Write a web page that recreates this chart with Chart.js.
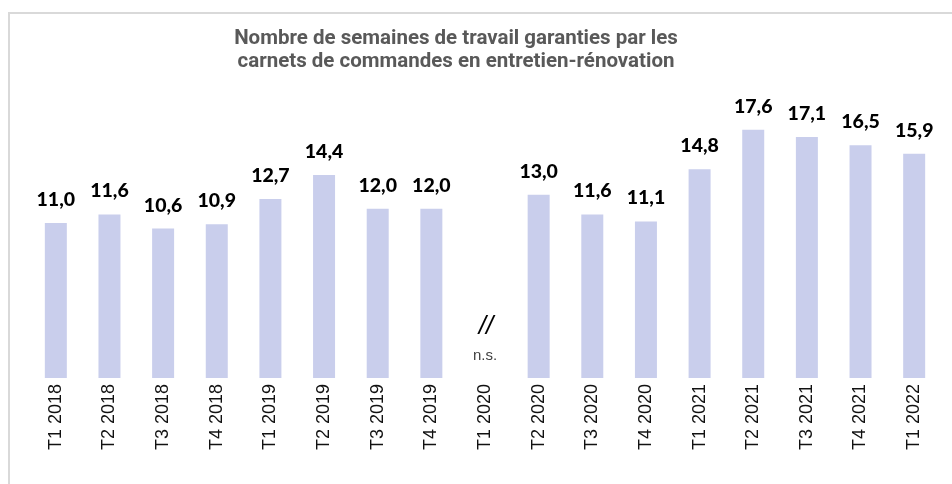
<!DOCTYPE html>
<html>
<head>
<meta charset="utf-8">
<script src="https://cdn.jsdelivr.net/npm/chart.js@4"></script>
<style>
  html, body { margin: 0; padding: 0; background: #fff; overflow: hidden; }
  #wrap { position: relative; width: 952px; height: 484px; }
  #frame { position: absolute; left: 8px; top: 12px; width: 960px; height: 490px; border: 2px solid #d9d9d9; box-sizing: border-box; }
  #title { position: absolute; left: 106px; width: 700px; top: 26px; text-align: center;
           font: bold 20.5px Roboto, sans-serif; line-height: 23px; color: #595959; }
  canvas { position: absolute; left: 0; top: 0; }
</style>
</head>
<body>
<div id="wrap">
  <div id="frame"></div>
  <canvas id="chart" width="952" height="484"></canvas>
  <div id="title">Nombre de semaines de travail garanties par les<br>carnets de commandes en entretien-rénovation</div>
</div>
<script>
const quarters = ["T1 2018", "T2 2018", "T3 2018", "T4 2018", "T1 2019", "T2 2019", "T3 2019", "T4 2019",
  "T1 2020", "T2 2020", "T3 2020", "T4 2020", "T1 2021", "T2 2021", "T3 2021", "T4 2021", "T1 2022"];
const weeks = [11.0, 11.6, 10.6, 10.9, 12.7, 14.4, 12.0, 12.0, null, 13.0, 11.6, 11.1, 14.8, 17.6, 17.1, 16.5, 15.9];
const gapLabel = "T1 2020"; // pas de donnée : "n.s."

const fmt = v => v.toFixed(1).replace(".", ",");

const valueLabels = {
  id: "valueLabels",
  afterDatasetsDraw(chart) {
    const ctx = chart.ctx;
    const meta = chart.getDatasetMeta(0);
    ctx.save();
    ctx.textAlign = "center";
    ctx.textBaseline = "alphabetic";
    ctx.font = "900 19.5px Lato, sans-serif";
    ctx.fillStyle = "#000";
    meta.data.forEach((bar, i) => {
      const v = weeks[i];
      if (v == null) return;
      ctx.fillText(fmt(v), bar.x, bar.y - 17);
    });
    // marqueur de rupture pour T1 2020
    const x = chart.scales.x.getPixelForValue(quarters.indexOf(gapLabel));
    const y = chart.scales.y;
    ctx.font = "italic 26px 'Liberation Sans', sans-serif";
    ctx.fillStyle = "#000";
    ctx.fillText("//", x + 1, y.getPixelForValue(3.1));
    ctx.font = "15px 'Liberation Sans', sans-serif";
    ctx.fillStyle = "#404040";
    ctx.fillText("n.s.", x, y.getPixelForValue(1.3));
    ctx.restore();
  }
};

new Chart(document.getElementById("chart"), {
  type: "bar",
  data: {
    labels: quarters,
    datasets: [{
      data: weeks,
      backgroundColor: "#c9ceec",
      categoryPercentage: 1,
      barPercentage: 0.41
    }]
  },
  options: {
    responsive: false,
    animation: false,
    layout: { padding: { top: 96, left: 29, right: 11, bottom: 0 } },
    plugins: { legend: { display: false }, tooltip: { enabled: false } },
    scales: {
      x: {
        grid: { display: false, drawTicks: false },
        border: { display: false },
        ticks: {
          minRotation: 90, maxRotation: 90, padding: 6,
          color: "#111",
          font: { family: "'Liberation Sans', Arial, sans-serif", size: 18 }
        },
        afterFit(scale) { scale.height = 106; }
      },
      y: { display: false, min: 0, max: 20 }
    }
  },
  plugins: [valueLabels]
});
</script>
</body>
</html>
